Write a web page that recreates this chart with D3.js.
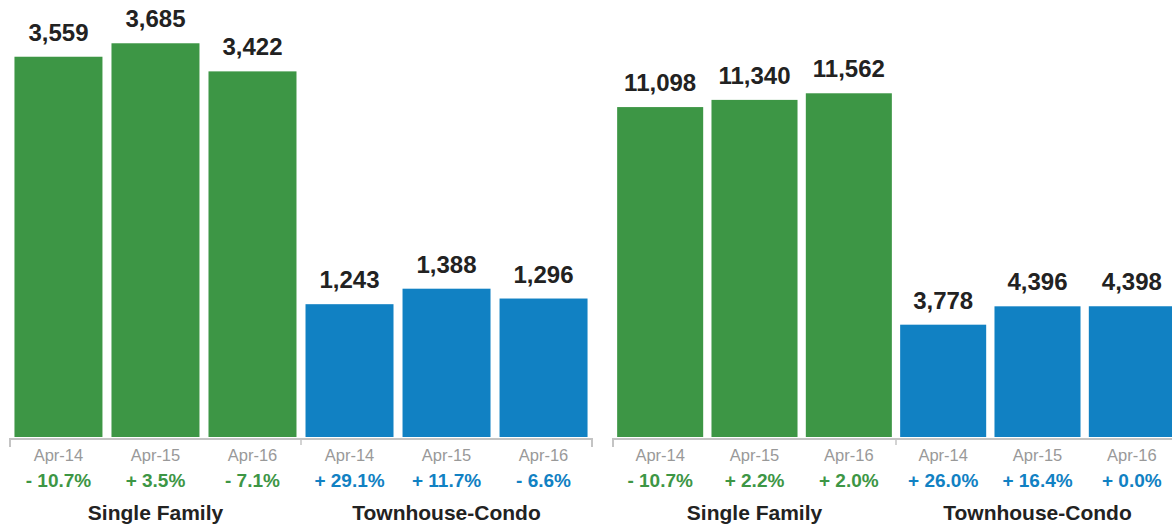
<!DOCTYPE html>
<html>
<head>
<meta charset="utf-8">
<script src="https://cdn.jsdelivr.net/npm/d3@7"></script>
<style>
  body { margin: 0; background: #fff; }
  svg { display: block; font-family: "Liberation Sans", Arial, Helvetica, sans-serif; }
</style>
</head>
<body>
<svg id="chart" width="1172" height="527"></svg>
<script>
// data
var groups = ["Single Family", "Townhouse-Condo"];
var periods = ["Apr-14", "Apr-15", "Apr-16"];

var leftSingleFamily = [3559, 3685, 3422];
var leftTownhouse = [1243, 1388, 1296];
var leftSFChange = [-10.7, 3.5, -7.1];
var leftTCChange = [29.1, 11.7, -6.6];

var rightSingleFamily = [11098, 11340, 11562];
var rightTownhouse = [3778, 4396, 4398];
var rightSFChange = [-10.7, 2.2, 2.0];
var rightTCChange = [26.0, 16.4, 0.0];

var green = "#3d9645", blue = "#1181c3";
var baseY = 437;

var svg = d3.select("#chart");

function fmtChange(v) {
    return (v < 0 ? "- " : "+ ") + Math.abs(v).toFixed(1) + "%";
}

function drawPanel(x0, x1, ymax, sf, tc, sfChg, tcChg, pi, po) {
    var rows = [];
    periods.forEach(function (p, i) {
        rows.push({key: "sf" + i, period: p, value: sf[i], change: sfChg[i], color: green});
    });
    periods.forEach(function (p, i) {
        rows.push({key: "tc" + i, period: p, value: tc[i], change: tcChg[i], color: blue});
    });

    var x = d3.scaleBand()
        .domain(rows.map(function (d) { return d.key; }))
        .range([x0, x1])
        .paddingInner(pi)
        .paddingOuter(po);
    var y = d3.scaleLinear().domain([0, ymax]).range([baseY, 0]);
    var gx = d3.scaleBand().domain(groups).range([x0, x1]);

    var g = svg.append("g");

    g.selectAll("rect.bar").data(rows).enter().append("rect")
        .attr("class", "bar")
        .attr("x", function (d) { return x(d.key); })
        .attr("width", x.bandwidth())
        .attr("y", function (d) { return y(d.value); })
        .attr("height", function (d) { return baseY - y(d.value); })
        .attr("fill", function (d) { return d.color; });

    g.selectAll("text.val").data(rows).enter().append("text")
        .attr("class", "val")
        .attr("x", function (d) { return x(d.key) + x.bandwidth() / 2; })
        .attr("y", function (d) { return y(d.value) - 16; })
        .attr("text-anchor", "middle")
        .attr("font-size", "24px")
        .attr("font-weight", "bold")
        .attr("fill", "#222")
        .text(function (d) { return d3.format(",")(d.value); });

    // axis line + ticks
    g.append("line")
        .attr("x1", x0).attr("x2", x1)
        .attr("y1", baseY + 2).attr("y2", baseY + 2)
        .attr("stroke", "#c4c4c4").attr("stroke-width", 2);
    [x0, x1].forEach(function (tx) {
        g.append("line")
            .attr("x1", tx).attr("x2", tx)
            .attr("y1", baseY + 1).attr("y2", baseY + 10)
            .attr("stroke", "#c4c4c4").attr("stroke-width", 2);
    });
    g.append("line")
        .attr("x1", gx(groups[1])).attr("x2", gx(groups[1]))
        .attr("y1", baseY + 2).attr("y2", baseY + 8)
        .attr("stroke", "#c4c4c4").attr("stroke-width", 1.5);

    g.selectAll("text.per").data(rows).enter().append("text")
        .attr("class", "per")
        .attr("x", function (d) { return x(d.key) + x.bandwidth() / 2; })
        .attr("y", 461)
        .attr("text-anchor", "middle")
        .attr("font-size", "16.5px")
        .attr("fill", "#999")
        .text(function (d) { return d.period; });

    g.selectAll("text.chg").data(rows).enter().append("text")
        .attr("class", "chg")
        .attr("x", function (d) { return x(d.key) + x.bandwidth() / 2; })
        .attr("y", 487)
        .attr("text-anchor", "middle")
        .attr("font-size", "19px")
        .attr("font-weight", "bold")
        .attr("fill", function (d) { return d.color; })
        .text(function (d) { return fmtChange(d.change); });

    g.selectAll("text.grp").data(groups).enter().append("text")
        .attr("class", "grp")
        .attr("x", function (d) { return gx(d) + gx.bandwidth() / 2; })
        .attr("y", 520)
        .attr("text-anchor", "middle")
        .attr("font-size", "21px")
        .attr("font-weight", "bold")
        .attr("fill", "#222")
        .text(function (d) { return d; });
}

drawPanel(10, 592, 4090, leftSingleFamily, leftTownhouse, leftSFChange, leftTCChange, 0.093, 0.046);
drawPanel(613, 1179, 14700, rightSingleFamily, rightTownhouse, rightSFChange, rightTCChange, 0.088, 0.044);
</script>
</body>
</html>
